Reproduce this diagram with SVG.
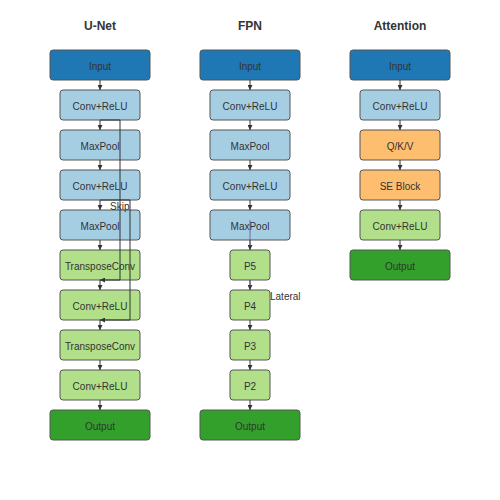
<svg xmlns="http://www.w3.org/2000/svg" width="500" height="500" viewBox="0 0 500 500">
<defs>
<marker id="ah" viewBox="0 0 8 8" refX="8" refY="4" markerWidth="5" markerHeight="5" orient="auto" markerUnits="userSpaceOnUse"><path d="M0,0 L8,4 L0,8 Z" fill="#333"/></marker>
<style>
.t{font-family:"Liberation Sans",Arial,sans-serif;font-size:10px;fill:#333;text-anchor:middle;dominant-baseline:central}
.h{font-family:"Liberation Sans",Arial,sans-serif;font-size:12px;font-weight:bold;fill:#333;text-anchor:middle}
.l{font-family:"Liberation Sans",Arial,sans-serif;font-size:10px;fill:#333;dominant-baseline:central}
.n rect{stroke:#555;stroke-width:1}
.in{fill:#1f78b4}.lb{fill:#a6cee3}.lg{fill:#b2df8a}.dg{fill:#33a02c}.or{fill:#fdbf6f}
.c{stroke:#333;stroke-width:1;fill:none;marker-end:url(#ah)}
</style>
</defs>
<rect width="500" height="500" fill="#fff"/>
<text class="h" x="100" y="30">U-Net</text>
<text class="h" x="250" y="30">FPN</text>
<text class="h" x="400" y="30">Attention</text>
<g class="n">
<g id="u-input"><rect class="in" x="50" y="50" width="100" height="30" rx="3"/><text class="t" x="100" y="66">Input</text></g>
<g id="u-conv1"><rect class="lb" x="60" y="90" width="80" height="30" rx="3"/><text class="t" x="100" y="106">Conv+ReLU</text></g>
<g id="u-pool1"><rect class="lb" x="60" y="130" width="80" height="30" rx="3"/><text class="t" x="100" y="146">MaxPool</text></g>
<g id="u-conv2"><rect class="lb" x="60" y="170" width="80" height="30" rx="3"/><text class="t" x="100" y="186">Conv+ReLU</text></g>
<g id="u-pool2"><rect class="lb" x="60" y="210" width="80" height="30" rx="3"/><text class="t" x="100" y="226">MaxPool</text></g>
<g id="u-tconv1"><rect class="lg" x="60" y="250" width="80" height="30" rx="3"/><text class="t" x="100" y="266">TransposeConv</text></g>
<g id="u-conv3"><rect class="lg" x="60" y="290" width="80" height="30" rx="3"/><text class="t" x="100" y="306">Conv+ReLU</text></g>
<g id="u-tconv2"><rect class="lg" x="60" y="330" width="80" height="30" rx="3"/><text class="t" x="100" y="346">TransposeConv</text></g>
<g id="u-conv4"><rect class="lg" x="60" y="370" width="80" height="30" rx="3"/><text class="t" x="100" y="386">Conv+ReLU</text></g>
<g id="u-output"><rect class="dg" x="50" y="410" width="100" height="30" rx="3"/><text class="t" x="100" y="426">Output</text></g>
<g id="f-input"><rect class="in" x="200" y="50" width="100" height="30" rx="3"/><text class="t" x="250" y="66">Input</text></g>
<g id="f-conv1"><rect class="lb" x="210" y="90" width="80" height="30" rx="3"/><text class="t" x="250" y="106">Conv+ReLU</text></g>
<g id="f-pool1"><rect class="lb" x="210" y="130" width="80" height="30" rx="3"/><text class="t" x="250" y="146">MaxPool</text></g>
<g id="f-conv2"><rect class="lb" x="210" y="170" width="80" height="30" rx="3"/><text class="t" x="250" y="186">Conv+ReLU</text></g>
<g id="f-pool2"><rect class="lb" x="210" y="210" width="80" height="30" rx="3"/><text class="t" x="250" y="226">MaxPool</text></g>
<g id="f-p5"><rect class="lg" x="230" y="250" width="40" height="30" rx="3"/><text class="t" x="250" y="266">P5</text></g>
<g id="f-p4"><rect class="lg" x="230" y="290" width="40" height="30" rx="3"/><text class="t" x="250" y="306">P4</text></g>
<g id="f-p3"><rect class="lg" x="230" y="330" width="40" height="30" rx="3"/><text class="t" x="250" y="346">P3</text></g>
<g id="f-p2"><rect class="lg" x="230" y="370" width="40" height="30" rx="3"/><text class="t" x="250" y="386">P2</text></g>
<g id="f-output"><rect class="dg" x="200" y="410" width="100" height="30" rx="3"/><text class="t" x="250" y="426">Output</text></g>
<g id="a-input"><rect class="in" x="350" y="50" width="100" height="30" rx="3"/><text class="t" x="400" y="66">Input</text></g>
<g id="a-conv1"><rect class="lb" x="360" y="90" width="80" height="30" rx="3"/><text class="t" x="400" y="106">Conv+ReLU</text></g>
<g id="a-qkv"><rect class="or" x="360" y="130" width="80" height="30" rx="3"/><text class="t" x="400" y="146">Q/K/V</text></g>
<g id="a-se"><rect class="or" x="360" y="170" width="80" height="30" rx="3"/><text class="t" x="400" y="186">SE Block</text></g>
<g id="a-conv2"><rect class="lg" x="360" y="210" width="80" height="30" rx="3"/><text class="t" x="400" y="226">Conv+ReLU</text></g>
<g id="a-output"><rect class="dg" x="350" y="250" width="100" height="30" rx="3"/><text class="t" x="400" y="266">Output</text></g>
</g>
<g id="connectors">
<line class="c" x1="100" y1="80" x2="100" y2="90"/>
<line class="c" x1="100" y1="120" x2="100" y2="130"/>
<line class="c" x1="100" y1="160" x2="100" y2="170"/>
<line class="c" x1="100" y1="200" x2="100" y2="210"/>
<line class="c" x1="100" y1="240" x2="100" y2="250"/>
<line class="c" x1="100" y1="280" x2="100" y2="290"/>
<line class="c" x1="100" y1="320" x2="100" y2="330"/>
<line class="c" x1="100" y1="360" x2="100" y2="370"/>
<line class="c" x1="100" y1="400" x2="100" y2="410"/>
<polyline class="c" points="100,120 120,120 120,280 100,280"/>
<polyline class="c" points="100,200 130,200 130,320 100,320"/>
<text class="l" x="110" y="206">Skip</text>
<line class="c" x1="250" y1="80" x2="250" y2="90"/>
<line class="c" x1="250" y1="120" x2="250" y2="130"/>
<line class="c" x1="250" y1="160" x2="250" y2="170"/>
<line class="c" x1="250" y1="200" x2="250" y2="210"/>
<line class="c" x1="250" y1="240" x2="250" y2="250"/>
<line class="c" x1="250" y1="280" x2="250" y2="290"/>
<line class="c" x1="250" y1="320" x2="250" y2="330"/>
<line class="c" x1="250" y1="360" x2="250" y2="370"/>
<line class="c" x1="250" y1="400" x2="250" y2="410"/>
<line x1="250" y1="220" x2="250" y2="246" stroke="#6a3d9a" stroke-opacity="0.6" stroke-width="1.2"/>
<line x1="250" y1="280" x2="250" y2="287" stroke="#6a3d9a" stroke-opacity="0.6" stroke-width="1.2"/>
<text class="l" x="270" y="296">Lateral</text>
<line class="c" x1="400" y1="80" x2="400" y2="90"/>
<line class="c" x1="400" y1="120" x2="400" y2="130"/>
<line class="c" x1="400" y1="160" x2="400" y2="170"/>
<line class="c" x1="400" y1="200" x2="400" y2="210"/>
<line class="c" x1="400" y1="240" x2="400" y2="250"/>
</g>
</svg>
